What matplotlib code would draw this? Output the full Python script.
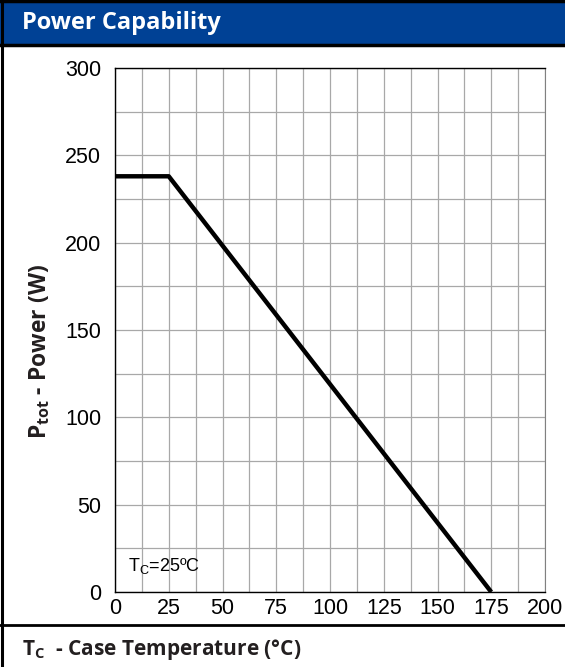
import matplotlib
matplotlib.use("Agg")
import matplotlib.pyplot as plt
from matplotlib.lines import Line2D
from matplotlib.patches import Rectangle

# derating curve: power vs case temperature
temp_c = [0, 25, 175]
power_w = [238, 238, 0]

x_ticks = [0, 25, 50, 75, 100, 125, 150, 175, 200]
y_ticks = [0, 50, 100, 150, 200, 250, 300]

NUM_FONT = 'Liberation Sans'

plt.rcParams['mathtext.fontset'] = 'custom'
plt.rcParams['mathtext.bf'] = 'Open Sans:bold'
plt.rcParams['mathtext.rm'] = NUM_FONT

W, H = 565, 667
fig = plt.figure(figsize=(W / 100, H / 100), dpi=100)

def px(x, y):
    return x / W, 1 - y / H

# header band
fig.patches.append(Rectangle(px(0, 45), 1, 44 / H, transform=fig.transFigure,
                             facecolor='#004195', edgecolor='none', zorder=0))
fig.text(*px(22, 23), "Power Capability", color='white', fontsize=17,
         fontweight='bold', family='Open Sans', va='center', ha='left')

# frame lines
for (x0, y0, x1, y1, lw) in [(0, 1, W, 1, 2.5), (0, 45, W, 45, 2.5),
                             (2, 0, 2, H, 2.2), (0, 625, W, 625, 2)]:
    xa, ya = px(x0, y0)
    xb, yb = px(x1, y1)
    fig.add_artist(Line2D([xa, xb], [ya, yb], color='black', lw=lw,
                          transform=fig.transFigure))

ax = fig.add_axes([115 / W, 1 - 592 / H, 430 / W, 524 / H])
ax.plot(temp_c, power_w, color='black', lw=3.2, solid_capstyle='butt', zorder=3)

ax.set_xlim(0, 200)
ax.set_ylim(0, 300)
ax.set_xticks(x_ticks)
ax.set_yticks(y_ticks)
ax.set_xticks([12.5 * i for i in range(17)], minor=True)
ax.set_yticks([25 * i for i in range(13)], minor=True)
ax.grid(which='both', color='#a8a8a8', lw=0.9)
ax.set_axisbelow(True)
ax.tick_params(which='both', length=0)
ax.tick_params(axis='x', pad=4)
ax.tick_params(axis='y', pad=10)
for lab in ax.get_xticklabels() + ax.get_yticklabels():
    lab.set_family(NUM_FONT)
    lab.set_fontsize(15.5)
for side in ['top', 'left', 'bottom']:
    ax.spines[side].set_color('black')
    ax.spines[side].set_linewidth(1)
ax.spines['right'].set_color('#808080')

ax.text(6, 15, r"T$_\mathregular{C}$=25ºC", family=NUM_FONT,
        fontsize=13, va='center', ha='left')

fig.text(*px(40, 352), r"P$_\mathregular{tot}$ - Power (W)", rotation=90,
         fontsize=16.5, fontweight='bold', family='Open Sans',
         va='center', ha='center', color='#231f20')
fig.text(*px(22, 650), r"T$_\mathbf{C}$  - Case Temperature (°C)",
         fontsize=15, fontweight='bold', family='Open Sans',
         va='center', ha='left', color='#231f20')

fig.savefig("out.png", dpi=100)
